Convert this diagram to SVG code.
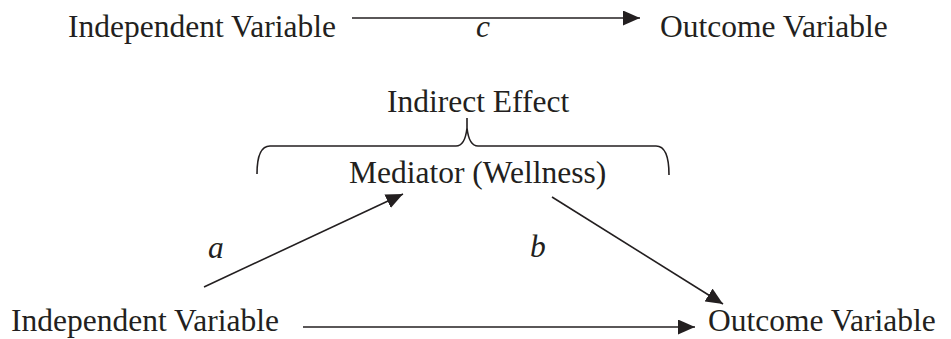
<svg xmlns="http://www.w3.org/2000/svg" width="951" height="339" viewBox="0 0 951 339">
<style>
text{font-family:"Liberation Serif","Times New Roman",serif;font-size:31.5px;fill:#231f20}
.i{font-style:italic}
.ln{stroke:#231f20;stroke-width:1.6;fill:none}
</style>
<defs>
<marker id="ah" markerUnits="userSpaceOnUse" markerWidth="18" markerHeight="16" refX="17" refY="7.5" orient="auto">
<path d="M0,0 L17,7.5 L0,15 z" fill="#231f20"/>
</marker>
</defs>
<rect width="951" height="339" fill="#fff"/>
<g id="top-iv"><text x="68" y="37">Independent Variable</text></g>
<g id="top-ov"><text x="660" y="37">Outcome Variable</text></g>
<g id="indirect"><text x="387" y="112">Indirect Effect</text></g>
<g id="mediator"><text x="349" y="183">Mediator (Wellness)</text></g>
<g id="bot-iv"><text x="11" y="331">Independent Variable</text></g>
<g id="bot-ov"><text x="708" y="331">Outcome Variable</text></g>
<g id="connectors">
<line class="ln" x1="352" y1="18" x2="640" y2="18" marker-end="url(#ah)"/>
<path class="ln" d="M257,174 Q257,146 270,146 L456,146 Q465,146 467,128 L467,118 M467,128 Q469,146 478,146 L656,146 Q669,146 669,175"/>
<line class="ln" x1="204" y1="287" x2="403" y2="194" marker-end="url(#ah)"/>
<line class="ln" x1="552" y1="197" x2="723" y2="304" marker-end="url(#ah)"/>
<line class="ln" x1="303" y1="327" x2="695" y2="327" marker-end="url(#ah)"/>
<text class="i" x="476" y="37">c</text>
<text class="i" x="208" y="258">a</text>
<text class="i" x="530" y="257">b</text>
</g>
</svg>
